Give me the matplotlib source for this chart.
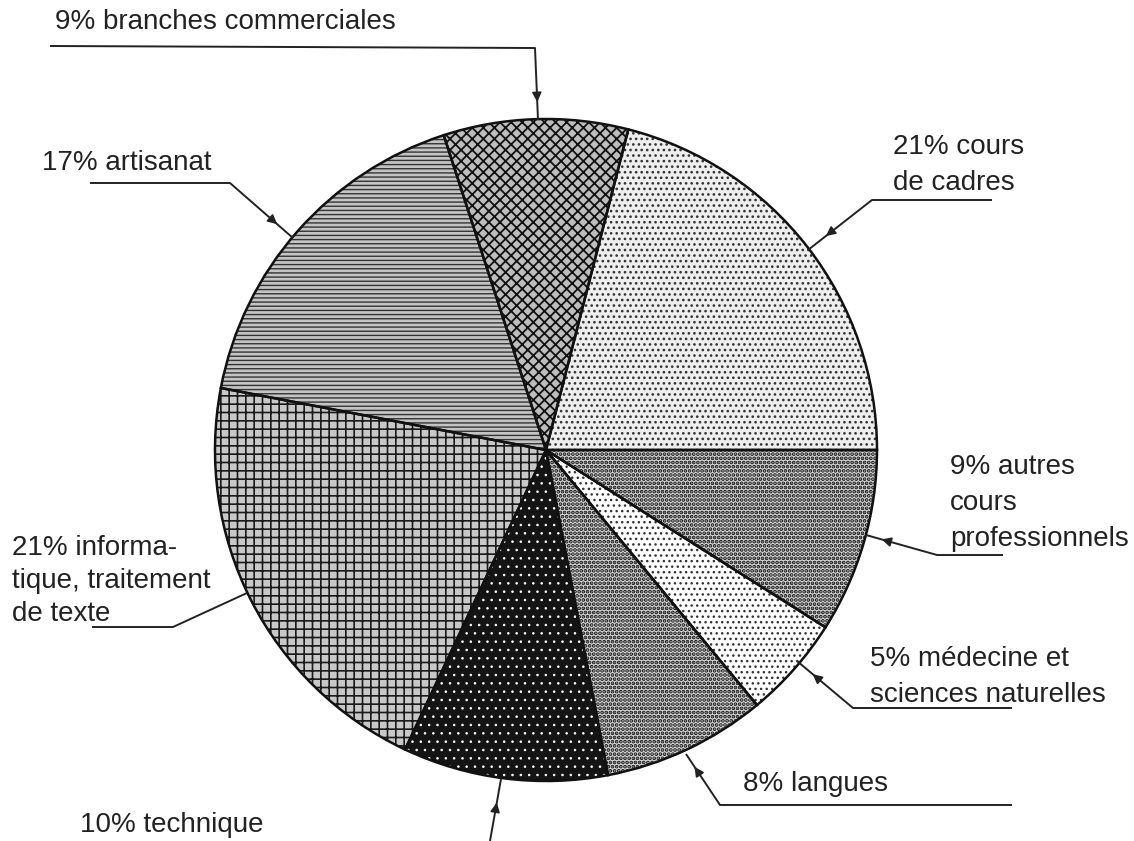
import matplotlib.pyplot as plt

# ============================================================
# DATA
# ============================================================
categories = [
    'cours de cadres',
    'branches commerciales',
    'artisanat',
    'informatique, traitement de texte',
    'technique',
    'langues',
    'médecine et sciences naturelles',
    'autres cours professionnels',
]
shares = [21, 9, 17, 21, 10, 8, 5, 9]

label_texts = [
    '21% cours\nde cadres',
    '9% branches commerciales',
    '17% artisanat',
    '21% informa-\ntique, traitement\nde texte',
    '10% technique',
    '8% langues',
    '5% médecine et\nsciences naturelles',
    '9% autres\ncours\nprofessionnels',
]

# ============================================================
# STYLE (fill, hatch, hatch colour, hatch width) per slice
# ============================================================
slice_styles = [
    ('#eeeeee', '...', '#333333', 1.1),   # cours de cadres
    ('#bdbdbd', 'xxx', '#111111', 1.3),   # branches commerciales
    ('#c4c4c4', '----', '#333333', 1.0),  # artisanat
    ('#c8c8c8', '++', '#1a1a1a', 1.2),    # informatique
    ('#141414', '..', '#ffffff', 0.6),    # technique
    ('#d6d6d6', '....', '#111111', 1.9),  # langues
    ('#ffffff', '...', '#333333', 1.0),   # medecine
    ('#d6d6d6', '....', '#111111', 1.9),  # autres
]

# label placement (pixel coords): text anchor, spacing, leader path, arrow position
label_pos = [
    (893, 165),
    (55, 22),
    (42, 163),
    (12, 581),
    (80, 825),
    (743, 784),
    (870, 677),
    (950, 503),
]
line_spacing = [1.5, 1.5, 1.5, 1.35, 1.5, 1.5, 1.45, 1.5]
leader_paths = [
    [(992, 200), (872, 200), (808, 250)],
    [(50, 46), (535, 48), (538, 120)],
    [(90, 183), (230, 183), (293, 238)],
    [(92, 627), (173, 627), (247, 593)],
    [(490, 841), (501, 779)],
    [(1012, 805), (720, 805), (686, 754)],
    [(1012, 708), (853, 708), (797, 661)],
    [(1003, 555), (937, 555), (866, 535)],
]
arrow_at = [0.72, 0.75, 0.75, None, 0.62, 0.75, 0.72, 0.78]

plt.rcParams['hatch.linewidth'] = 1.0
plt.rcParams['font.family'] = ['Liberation Sans', 'DejaVu Sans']

fig = plt.figure(figsize=(11.34, 8.41), dpi=100)
ax = fig.add_axes([0, 0, 1, 1])

center = (546, 450)
radius = 331

wedges, _ = ax.pie(
    shares,
    startangle=0,
    counterclock=False,
    center=center,
    radius=radius,
    frame=True,
    wedgeprops=dict(linewidth=0),
)
for w, (fc, hatch, hc, hlw) in zip(wedges, slice_styles):
    w.set_facecolor(fc)
    w.set_edgecolor(hc)
    w.set_hatch(hatch)
    w.set_linewidth(0)
    if hasattr(w, 'set_hatch_linewidth'):
        w.set_hatch_linewidth(hlw)

# outlines
ax.pie(
    shares,
    startangle=0,
    counterclock=False,
    center=center,
    radius=radius,
    frame=True,
    wedgeprops=dict(fill=False, edgecolor='#111111', linewidth=1.8),
)

# ============================================================
# LABELS & LEADER LINES
# ============================================================
for txt, (tx, ty), ls, path, frac in zip(label_texts, label_pos, line_spacing,
                                         leader_paths, arrow_at):
    ax.text(tx, ty, txt, fontsize=20, color='#222222',
            ha='left', va='center', linespacing=ls)
    xs = [p[0] for p in path]
    ys = [p[1] for p in path]
    ax.plot(xs, ys, color='#222222', linewidth=1.4, solid_capstyle='butt')
    if frac is not None:
        (x0, y0), (x1, y1) = path[-2], path[-1]
        ax_ = x0 + (x1 - x0) * frac
        ay_ = y0 + (y1 - y0) * frac
        bx_ = x0 + (x1 - x0) * (frac - 0.05)
        by_ = y0 + (y1 - y0) * (frac - 0.05)
        ax.annotate('', xy=(ax_, ay_), xytext=(bx_, by_),
                    arrowprops=dict(arrowstyle='-|>', color='#222222',
                                    lw=1.2, mutation_scale=14,
                                    shrinkA=0, shrinkB=0))

ax.set_xlim(0, 1134)
ax.set_ylim(841, 0)
ax.set_aspect('equal')
ax.axis('off')

plt.savefig('out.png', dpi=100, facecolor='white')
